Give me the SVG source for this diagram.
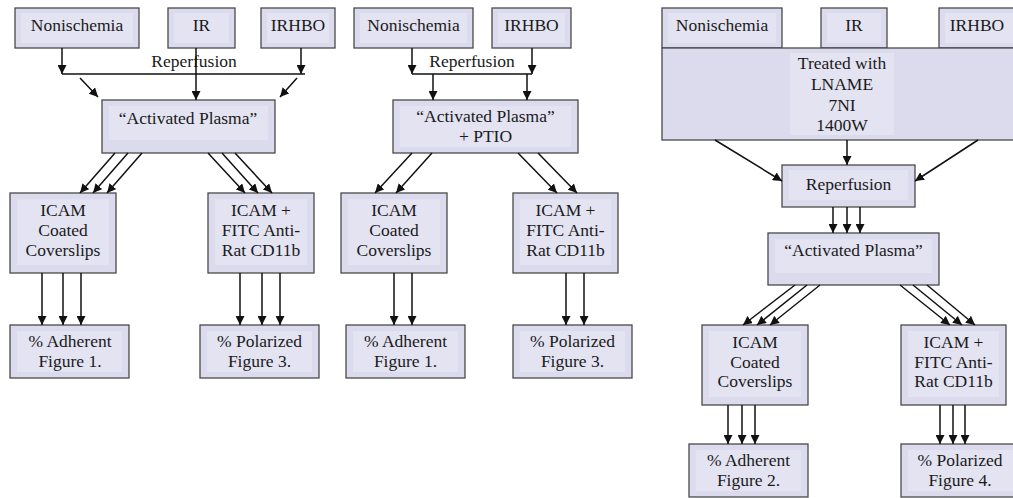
<svg xmlns="http://www.w3.org/2000/svg" width="1013" height="498" viewBox="0 0 1013 498">
<defs>
<style>
.box{fill:#dbdbed;stroke:#4a4a4a;stroke-width:1.3}
.inner{fill:#e3e3f2;stroke:none}
.t{font-family:'Liberation Serif','Times New Roman',Tinos,'DejaVu Serif',serif;font-size:17.5px;fill:#1a1a1a;text-anchor:middle}
.c{stroke:#111;stroke-width:1.5;fill:none}
.ca{stroke:#111;stroke-width:1.5;fill:none;marker-end:url(#ah)}
</style>
<marker id="ah" viewBox="0 0 10 10" refX="10" refY="5" markerWidth="9" markerHeight="9" markerUnits="userSpaceOnUse" orient="auto">
<path d="M0,0 L10,5 L0,10 z" fill="#111"/>
</marker>
</defs>
<rect width="1013" height="498" fill="#ffffff"/>

<!-- Panel 1 nodes -->
<g id="p1_non"><rect class="box" x="15" y="8" width="124" height="40"/><rect class="inner" x="21" y="13" width="112" height="30"/><text class="t" x="77" y="31">Nonischemia</text></g>
<g id="p1_ir"><rect class="box" x="168" y="8" width="67" height="40"/><rect class="inner" x="174" y="13" width="55" height="30"/><text class="t" x="201.5" y="31">IR</text></g>
<g id="p1_irhbo"><rect class="box" x="261" y="8" width="74" height="40"/><rect class="inner" x="267" y="13" width="62" height="30"/><text class="t" x="298" y="31">IRHBO</text></g>
<g id="p1_ap"><rect class="box" x="102" y="100" width="173" height="53"/><rect class="inner" x="109" y="106" width="159" height="34"/><text class="t" x="188" y="124">“Activated Plasma”</text></g>
<g id="p1_icam"><rect class="box" x="10" y="193" width="106" height="80"/><rect class="inner" x="17" y="199" width="92" height="66"/><text class="t" x="63" y="216">ICAM</text><text class="t" x="63" y="236">Coated</text><text class="t" x="63" y="256">Coverslips</text></g>
<g id="p1_fitc"><rect class="box" x="208" y="193" width="106" height="80"/><rect class="inner" x="215" y="199" width="92" height="66"/><text class="t" x="261" y="216">ICAM +</text><text class="t" x="261" y="236">FITC Anti-</text><text class="t" x="261" y="256">Rat CD11b</text></g>
<g id="p1_adh"><rect class="box" x="10" y="325" width="119" height="53"/><rect class="inner" x="17" y="331" width="105" height="41"/><text class="t" x="70" y="347">% Adherent</text><text class="t" x="70" y="367">Figure 1.</text></g>
<g id="p1_pol"><rect class="box" x="200" y="325" width="119" height="53"/><rect class="inner" x="207" y="331" width="105" height="41"/><text class="t" x="259.5" y="347">% Polarized</text><text class="t" x="259.5" y="367">Figure 3.</text></g>

<!-- Panel 2 nodes -->
<g id="p2_non"><rect class="box" x="354" y="8" width="119" height="40"/><rect class="inner" x="360" y="13" width="107" height="30"/><text class="t" x="413.5" y="31">Nonischemia</text></g>
<g id="p2_irhbo"><rect class="box" x="492" y="8" width="79" height="40"/><rect class="inner" x="498" y="13" width="67" height="30"/><text class="t" x="531.5" y="31">IRHBO</text></g>
<g id="p2_ap"><rect class="box" x="393" y="100" width="185" height="53"/><rect class="inner" x="400" y="106" width="171" height="41"/><text class="t" x="485.5" y="122">“Activated Plasma”</text><text class="t" x="485.5" y="142">+ PTIO</text></g>
<g id="p2_icam"><rect class="box" x="341" y="193" width="106" height="80"/><rect class="inner" x="348" y="199" width="92" height="66"/><text class="t" x="394" y="216">ICAM</text><text class="t" x="394" y="236">Coated</text><text class="t" x="394" y="256">Coverslips</text></g>
<g id="p2_fitc"><rect class="box" x="513" y="193" width="105" height="80"/><rect class="inner" x="520" y="199" width="91" height="66"/><text class="t" x="565.5" y="216">ICAM +</text><text class="t" x="565.5" y="236">FITC Anti-</text><text class="t" x="565.5" y="256">Rat CD11b</text></g>
<g id="p2_adh"><rect class="box" x="346" y="325" width="119" height="53"/><rect class="inner" x="353" y="331" width="105" height="41"/><text class="t" x="405.5" y="347">% Adherent</text><text class="t" x="405.5" y="367">Figure 1.</text></g>
<g id="p2_pol"><rect class="box" x="513" y="325" width="119" height="53"/><rect class="inner" x="520" y="331" width="105" height="41"/><text class="t" x="572.5" y="347">% Polarized</text><text class="t" x="572.5" y="367">Figure 3.</text></g>

<!-- Panel 3 nodes -->
<g id="p3_non"><rect class="box" x="662" y="8" width="120" height="40"/><rect class="inner" x="668" y="13" width="108" height="30"/><text class="t" x="722" y="31">Nonischemia</text></g>
<g id="p3_ir"><rect class="box" x="821" y="8" width="66" height="40"/><rect class="inner" x="827" y="13" width="54" height="30"/><text class="t" x="854" y="31">IR</text></g>
<g id="p3_irhbo"><rect class="box" x="939" y="8" width="80" height="40"/><rect class="inner" x="945" y="13" width="68" height="30"/><text class="t" x="977" y="31">IRHBO</text></g>
<g id="p3_treat"><rect class="box" x="662" y="48" width="360" height="92"/><rect class="inner" x="790" y="53" width="104" height="82"/><text class="t" x="842" y="69">Treated with</text><text class="t" x="842" y="90">LNAME</text><text class="t" x="842" y="110.5">7NI</text><text class="t" x="842" y="131">1400W</text></g>
<g id="p3_rep"><rect class="box" x="782" y="165" width="133" height="42"/><rect class="inner" x="789" y="170" width="119" height="30"/><text class="t" x="848.5" y="190">Reperfusion</text></g>
<g id="p3_ap"><rect class="box" x="768" y="233" width="171" height="52"/><rect class="inner" x="775" y="239" width="157" height="34"/><text class="t" x="853.5" y="256">“Activated Plasma”</text></g>
<g id="p3_icam"><rect class="box" x="702" y="325" width="106" height="80"/><rect class="inner" x="709" y="331" width="92" height="66"/><text class="t" x="755" y="348">ICAM</text><text class="t" x="755" y="368">Coated</text><text class="t" x="755" y="387">Coverslips</text></g>
<g id="p3_fitc"><rect class="box" x="901" y="325" width="105" height="80"/><rect class="inner" x="908" y="331" width="91" height="66"/><text class="t" x="953.5" y="348">ICAM +</text><text class="t" x="953.5" y="368">FITC Anti-</text><text class="t" x="953.5" y="387">Rat CD11b</text></g>
<g id="p3_adh"><rect class="box" x="689" y="444" width="119" height="53"/><rect class="inner" x="696" y="450" width="105" height="41"/><text class="t" x="748.5" y="466">% Adherent</text><text class="t" x="748.5" y="486">Figure 2.</text></g>
<g id="p3_pol"><rect class="box" x="901" y="444" width="119" height="53"/><rect class="inner" x="908" y="450" width="105" height="41"/><text class="t" x="960" y="466">% Polarized</text><text class="t" x="960" y="486">Figure 4.</text></g>

<!-- Connectors -->
<g id="connectors">
<!-- panel 1 -->
<text class="t" x="194" y="67">Reperfusion</text>
<line class="ca" x1="62" y1="48" x2="62" y2="74"/>
<line class="ca" x1="301" y1="48" x2="301" y2="74"/>
<line class="c" x1="62" y1="74" x2="305" y2="74"/>
<line class="ca" x1="196" y1="48" x2="196" y2="100"/>
<line class="ca" x1="80" y1="78" x2="98" y2="97"/>
<line class="ca" x1="297" y1="78" x2="280" y2="97"/>
<line class="ca" x1="115" y1="153" x2="80" y2="193"/>
<line class="ca" x1="128" y1="153" x2="93" y2="193"/>
<line class="ca" x1="142" y1="153" x2="107" y2="193"/>
<line class="ca" x1="208" y1="153" x2="245" y2="193"/>
<line class="ca" x1="222" y1="153" x2="258" y2="193"/>
<line class="ca" x1="235" y1="153" x2="272" y2="193"/>
<line class="ca" x1="42" y1="273" x2="42" y2="325"/>
<line class="ca" x1="63" y1="273" x2="63" y2="325"/>
<line class="ca" x1="81" y1="273" x2="81" y2="325"/>
<line class="ca" x1="240" y1="273" x2="240" y2="325"/>
<line class="ca" x1="262" y1="273" x2="262" y2="325"/>
<line class="ca" x1="280" y1="273" x2="280" y2="325"/>
<!-- panel 2 -->
<text class="t" x="472" y="67">Reperfusion</text>
<line class="ca" x1="412" y1="48" x2="412" y2="74"/>
<line class="ca" x1="532" y1="48" x2="532" y2="74"/>
<line class="c" x1="412" y1="74" x2="532" y2="74"/>
<line class="ca" x1="433" y1="74" x2="433" y2="100"/>
<line class="ca" x1="527" y1="74" x2="527" y2="100"/>
<line class="ca" x1="412" y1="153" x2="375" y2="193"/>
<line class="ca" x1="432" y1="153" x2="396" y2="193"/>
<line class="ca" x1="518" y1="153" x2="557" y2="193"/>
<line class="ca" x1="538" y1="153" x2="577" y2="193"/>
<line class="ca" x1="394" y1="273" x2="394" y2="325"/>
<line class="ca" x1="412" y1="273" x2="412" y2="325"/>
<line class="ca" x1="566" y1="273" x2="566" y2="325"/>
<line class="ca" x1="584" y1="273" x2="584" y2="325"/>
<!-- panel 3 -->
<line class="ca" x1="715" y1="140" x2="782" y2="181"/>
<line class="ca" x1="847" y1="140" x2="847" y2="165"/>
<line class="ca" x1="978" y1="140" x2="915" y2="181"/>
<line class="ca" x1="833" y1="207" x2="833" y2="233"/>
<line class="ca" x1="847" y1="207" x2="847" y2="233"/>
<line class="ca" x1="860" y1="207" x2="860" y2="233"/>
<line class="ca" x1="795" y1="285" x2="743" y2="325"/>
<line class="ca" x1="807" y1="285" x2="757" y2="325"/>
<line class="ca" x1="820" y1="285" x2="770" y2="325"/>
<line class="ca" x1="900" y1="285" x2="950" y2="325"/>
<line class="ca" x1="913" y1="285" x2="962" y2="325"/>
<line class="ca" x1="927" y1="285" x2="975" y2="325"/>
<line class="ca" x1="728" y1="405" x2="728" y2="444"/>
<line class="ca" x1="742" y1="405" x2="742" y2="444"/>
<line class="ca" x1="755" y1="405" x2="755" y2="444"/>
<line class="ca" x1="940" y1="405" x2="940" y2="444"/>
<line class="ca" x1="953" y1="405" x2="953" y2="444"/>
<line class="ca" x1="965" y1="405" x2="965" y2="444"/>
</g>
</svg>
